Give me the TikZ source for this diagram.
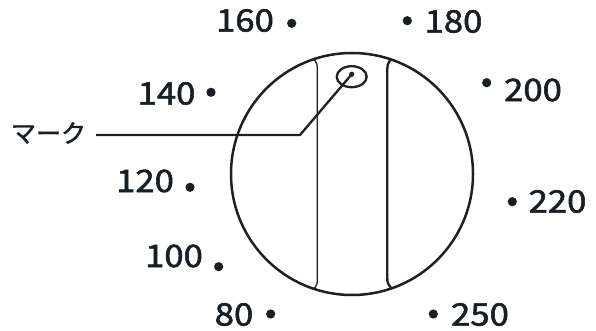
\documentclass[tikz,border=0pt]{standalone}
\usepackage{fontspec}
\newfontfamily\jpfont[FakeBold=1.6]{Noto Sans CJK JP}
\newfontfamily\numfont[FakeStretch=1.12,FakeBold=1.8]{Noto Sans CJK JP}
\definecolor{ink}{RGB}{35,31,32}
\definecolor{txt}{RGB}{22,30,38}
\tikzset{
  num/.style={inner sep=0pt, text=txt, font=\numfont\fontsize{31}{31}\selectfont},
  lbl/.style={inner sep=0pt, text=txt, font=\jpfont\fontsize{25}{25}\selectfont},
  tick/.style={fill=txt, draw=none},
  rim/.style={draw=ink, line width=2.5pt},
  seam/.style={draw=ink, line width=1.3pt},
  ridge/.style={draw=ink, line width=2.3pt},
  leader/.style={draw=ink, line width=2.3pt},
}
\begin{document}
\begin{tikzpicture}[x=1pt,y=-1pt]
\useasboundingbox (0,0) rectangle (596,331);
% dial
\coordinate (c) at (352,174);
\draw[rim] (c) circle[radius=121pt];
\draw[seam] (314,59.3) .. controls (317.3,64) .. (317.3,72) -- (317.3,278) .. controls (317.3,284) .. (314,288.9);
\draw[ridge] (391,59.5) .. controls (387.3,64) .. (387.3,74) -- (387.3,276) .. controls (387.3,283) .. (391.5,288.5);
% mark
\draw[ridge] (351.7,76.7) ellipse[x radius=15pt, y radius=10.5pt];
\coordinate (markdot) at (351.7,74.3);
\fill[ink] (markdot) circle[radius=2.6pt];
\node[lbl] (mark) at (48.5,133) {マーク};
\coordinate (elbow) at (300,135);
\coordinate (lineend) at (96,135);
\draw[leader] (markdot) -- (elbow) -- (lineend);
% scale numbers
\node[num] (n160) at (245,20.5) {160};
\node[num] (n140) at (166.5,93.5) {140};
\node[num] (n180) at (453.5,21.5) {180};
\node[num] (n200) at (533,90) {200};
\node[num] (n120) at (145,181) {120};
\node[num] (n100) at (174,256) {100};
\node[num] (n80)  at (234,314.5) {80};
\node[num] (n220) at (557.5,201.5) {220};
\node[num] (n250) at (480,314.5) {250};
% scale dots
\fill[tick] (291.7,23.3) circle[radius=4.6pt];
\fill[tick] (211,92.3) circle[radius=4.6pt];
\fill[tick] (407.3,20.7) circle[radius=4.6pt];
\fill[tick] (486.7,82.7) circle[radius=4.6pt];
\fill[tick] (190,187.3) circle[radius=4.6pt];
\fill[tick] (218.7,266.7) circle[radius=4.6pt];
\fill[tick] (270.7,314) circle[radius=4.6pt];
\fill[tick] (512.3,201.7) circle[radius=4.6pt];
\fill[tick] (433.3,314) circle[radius=4.6pt];
\end{tikzpicture}
\end{document}
